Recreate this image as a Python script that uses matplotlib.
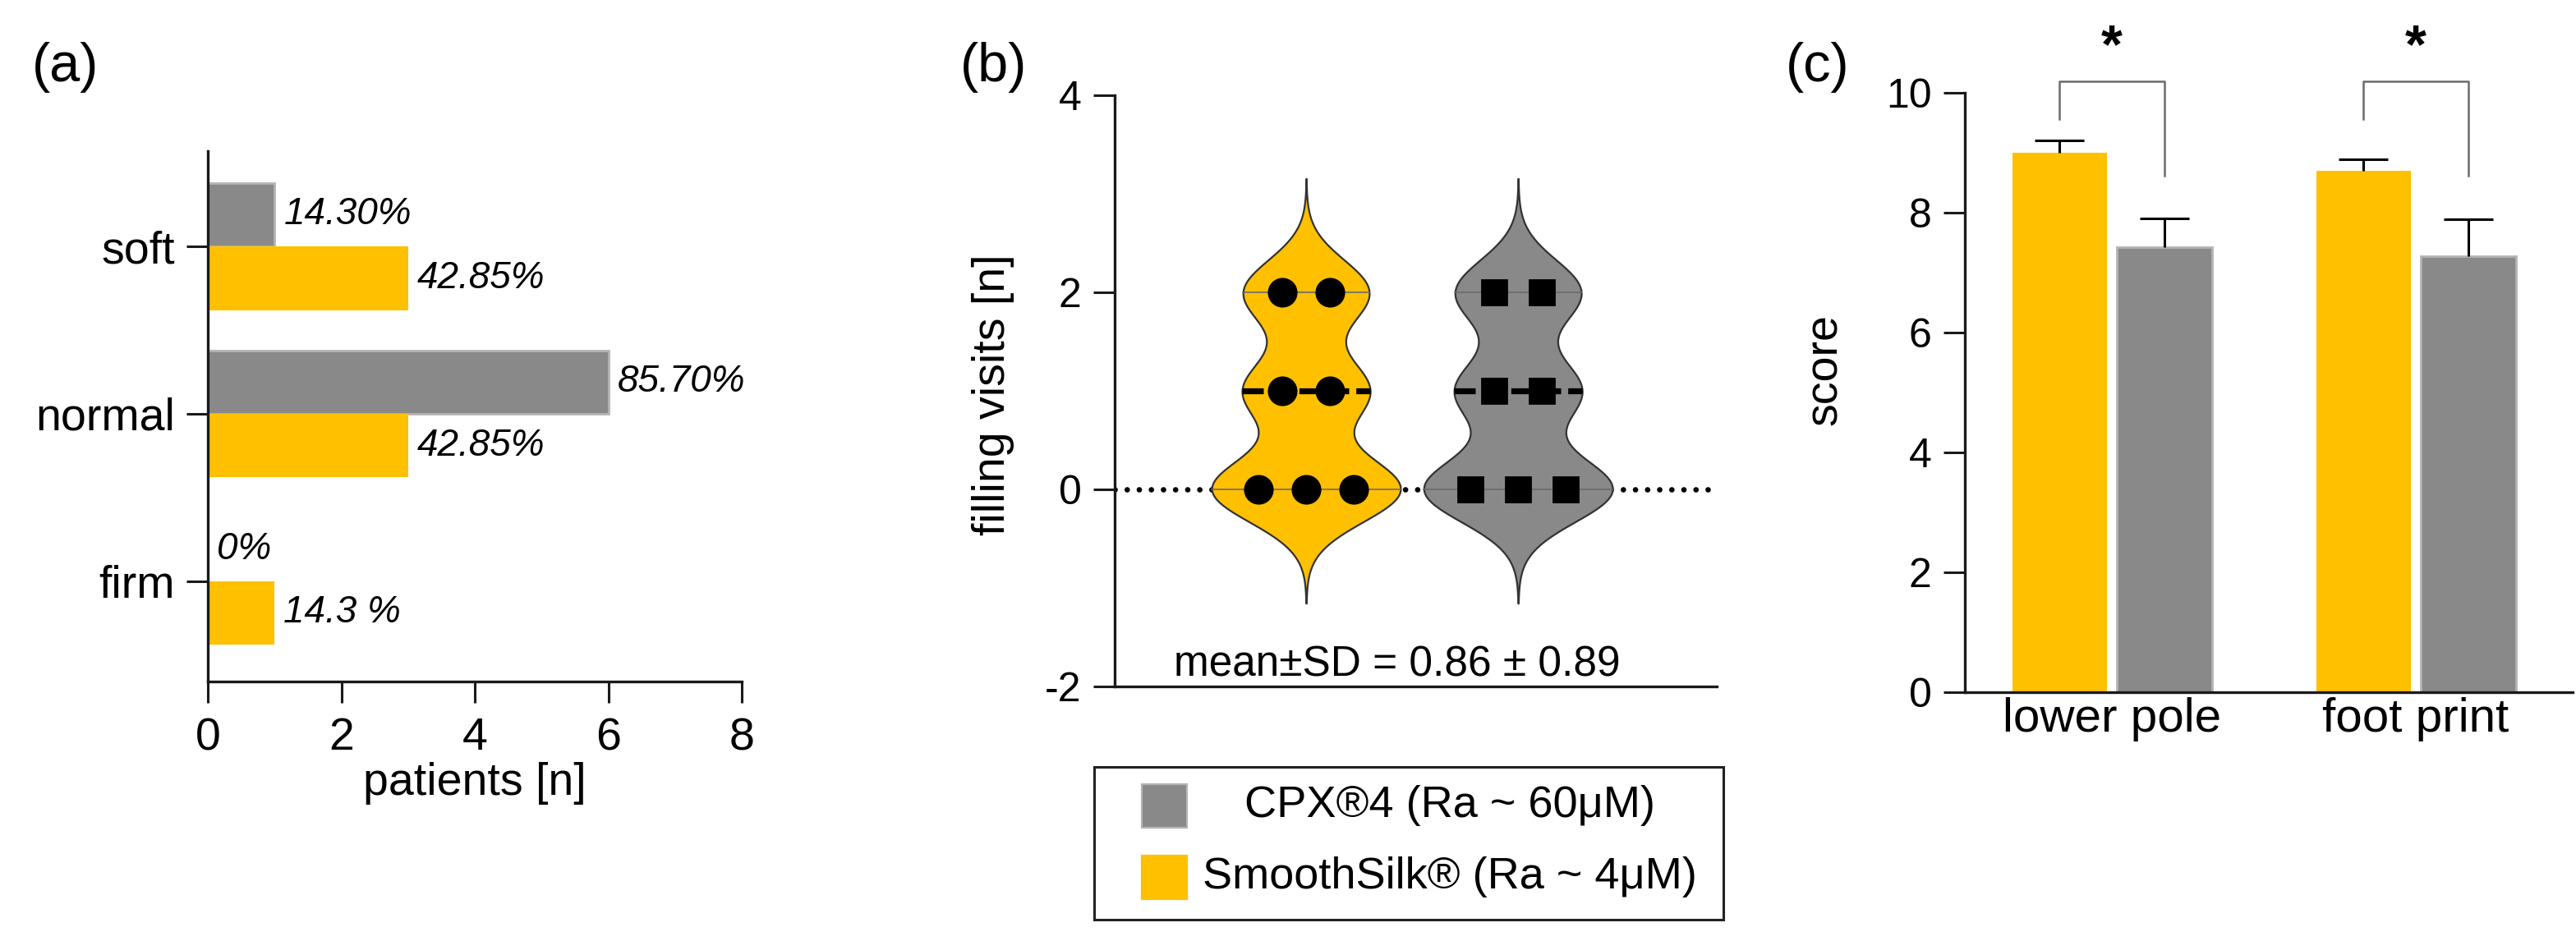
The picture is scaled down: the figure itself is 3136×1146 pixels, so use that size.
import numpy as np
import matplotlib.pyplot as plt
from matplotlib.patches import Rectangle

plt.rcParams['font.family'] = ['Liberation Sans', 'DejaVu Sans']
plt.rcParams['axes.unicode_minus'] = False

YELLOW = '#FFC000'
GRAY = '#898989'
EDGE = '#b4b4b4'

# (a) consistency of the breast, patients per category
consistency = ['firm', 'normal', 'soft']
cpx_patients = [0, 6, 1]
silk_patients = [1, 3, 3]
cpx_pct = ['0%', '85.70%', '14.30%']
silk_pct = ['14.3 %', '42.85%', '42.85%']

# (b) filling visits per patient
silk_visits = [0, 0, 0, 1, 1, 2, 2]
cpx_visits = [0, 0, 0, 1, 1, 2, 2]
visits_note = 'mean\u00b1SD = 0.86 \u00b1 0.89'

# (c) scores
regions = ['lower pole', 'foot print']
silk_score = [9.0, 8.7]
silk_err = [0.2, 0.19]
cpx_score = [7.42, 7.28]
cpx_err = [0.48, 0.61]

legend_labels = ['CPX\u00ae4 (Ra ~ 60\u03bcM)', 'SmoothSilk\u00ae (Ra ~ 4\u03bcM)']

W, H = 3136, 1146
fig = plt.figure(figsize=(W / 200, H / 200), dpi=200)


def box(l, t, r, b):
    # pixel box -> figure fraction rect
    return [l / W, 1 - b / H, (r - l) / W, (b - t) / H]


def fx(x):
    return x / W


def fy(y):
    return 1 - y / H


def style(ax, size):
    for s in ['top', 'right']:
        ax.spines[s].set_visible(False)
    for s in ['left', 'bottom']:
        ax.spines[s].set_linewidth(1.2)
        ax.spines[s].set_color('#1a1a1a')
    ax.tick_params(direction='out', length=9.5, width=1.1, labelsize=size,
                   color='#1a1a1a')


# ---------------- (a) ----------------
ax1 = fig.add_axes(box(253, 184, 903, 830))
style(ax1, 20)
y = np.arange(len(consistency))
bh = 0.38
ax1.barh(y + bh / 2, cpx_patients, height=bh, color=GRAY, edgecolor=EDGE, linewidth=1)
ax1.barh(y - bh / 2, silk_patients, height=bh, color=YELLOW, linewidth=0)
for i in range(len(y)):
    ax1.annotate(cpx_pct[i], (cpx_patients[i], y[i] + bh / 2), xytext=(4, 0),
                 textcoords='offset points', va='center', ha='left',
                 style='italic', fontsize=16.5)
    ax1.annotate(silk_pct[i], (silk_patients[i], y[i] - bh / 2), xytext=(4, 0),
                 textcoords='offset points', va='center', ha='left',
                 style='italic', fontsize=16.5)
ax1.set_xlim(0, 8)
ax1.set_ylim(-0.6, 2.57)
ax1.set_xticks([0, 2, 4, 6, 8])
ax1.set_yticks(y)
ax1.set_yticklabels(consistency)
ax1.tick_params(axis='x', pad=6)
ax1.tick_params(axis='y', pad=5)
ax1.set_xlabel('patients [n]', fontsize=20, labelpad=1)

# ---------------- (b) ----------------
ax2 = fig.add_axes(box(1357, 116, 2090, 836))
style(ax2, 18)
ax2.set_ylim(-2, 4)
ax2.set_xlim(0.097, 2.937)
ax2.set_yticks([-2, 0, 2, 4])
ax2.set_xticks([])
ax2.tick_params(axis='y', pad=5)
ax2.axhline(0, color='black', lw=2.4, ls=(0, (0.01, 2.2)), dash_capstyle='round', zorder=1)

h = 0.33
half_max = 0.445
groups = [(silk_visits, YELLOW, 'o', 12), (cpx_visits, GRAY, 's', 11)]
for k, (vals, col, mk, ms) in enumerate(groups):
    pos = k + 1
    v = np.asarray(vals, float)
    grid = np.linspace(v.min() - 3.5 * h, v.max() + 3.5 * h, 500)
    dens = np.exp(-0.5 * ((grid[:, None] - v[None, :]) / h) ** 2).sum(axis=1)
    half = half_max * dens / dens.max()
    ax2.fill_betweenx(grid, pos - half, pos + half, facecolor=col,
                      edgecolor='#333333', linewidth=0.8, zorder=2)
    q1, med, q3 = np.percentile(v, [25, 50, 75], method='weibull')
    for q in (q1, q3):
        w = np.interp(q, grid, half)
        ax2.plot([pos - w, pos + w], [q, q], color='#6a6a6a', lw=0.6, zorder=3)
    w = np.interp(med, grid, half)
    ax2.plot([pos - w, pos + w], [med, med], color='black', lw=2.6,
             ls=(0, (3.6, 1.2)), zorder=3)
    # swarm layout
    xs, ys = [], []
    for u in np.unique(v):
        n = int((v == u).sum())
        off = (np.arange(n) - (n - 1) / 2) * 0.225
        xs.extend(pos + off)
        ys.extend([u] * n)
    ax2.plot(xs, ys, mk, color='black', ms=ms, zorder=4)

ax2.text(0.469, -1.9, visits_note, transform=ax2.get_yaxis_transform(),
         ha='center', va='baseline', fontsize=18.5)
ax2.set_ylabel('filling visits [n]', fontsize=20)
ax2.yaxis.set_label_coords(-0.166, 0.494)

# legend box (drawn by hand to get centred labels)
fig.add_artist(Rectangle((fx(1332), fy(1120)), fx(2098) - fx(1332), fy(934) - fy(1120),
                         transform=fig.transFigure, facecolor='white',
                         edgecolor='#222222', linewidth=1.1))
for (col, lab, top) in [(GRAY, legend_labels[0], 955), (YELLOW, legend_labels[1], 1042)]:
    fig.add_artist(Rectangle((fx(1390), fy(top + 53)), fx(55), 53 / H,
                             transform=fig.transFigure, facecolor=col,
                             edgecolor=EDGE if col == GRAY else col, linewidth=0.8))
    fig.text(fx(1765), fy(top + 26), lab, ha='center', va='center', fontsize=19.5)

# ---------------- (c) ----------------
ax3 = fig.add_axes(box(2392, 113, 3132, 843))
style(ax3, 18)
x = np.arange(len(regions))
bw, off = 0.313, 0.172
ax3.bar(x - off, silk_score, bw, color=YELLOW, linewidth=0, zorder=2)
ax3.bar(x + off, cpx_score, bw, color=GRAY, edgecolor=EDGE, linewidth=1, zorder=2)
for xs_, vals, errs in [(x - off, silk_score, silk_err), (x + off, cpx_score, cpx_err)]:
    eb = ax3.errorbar(xs_, vals, yerr=[np.zeros(len(errs)), errs], fmt='none',
                      ecolor='black', elinewidth=1.1, capsize=10.8, capthick=1.1,
                      zorder=3)
    eb[1][0].set_visible(False)

bracket_top, left_leg, right_leg, star_y = 10.19, 9.56, 8.62, 10.74
for i in range(len(x)):
    ax3.plot([x[i] - off, x[i] - off, x[i] + off, x[i] + off],
             [left_leg, bracket_top, bracket_top, right_leg],
             color='#6b6b6b', lw=0.9, clip_on=False)
    ax3.text(x[i], star_y, '*', ha='center', va='center', fontsize=24,
             fontweight='bold', clip_on=False)

ax3.set_xlim(-0.484, 1.516)
ax3.set_ylim(0, 10)
ax3.set_yticks([0, 2, 4, 6, 8, 10])
ax3.set_xticks(x)
ax3.set_xticklabels(regions)
ax3.tick_params(axis='x', length=0, labelsize=21, pad=2)
ax3.tick_params(axis='y', pad=5)
ax3.set_ylabel('score', fontsize=20)
ax3.yaxis.set_label_coords(-0.195, 0.538)

# panel letters
for lab, xc in [('(a)', 80), ('(b)', 1210), ('(c)', 2213)]:
    fig.text(fx(xc), fy(82), lab, ha='center', va='center', fontsize=24)

fig.savefig('out.png', dpi=200)
